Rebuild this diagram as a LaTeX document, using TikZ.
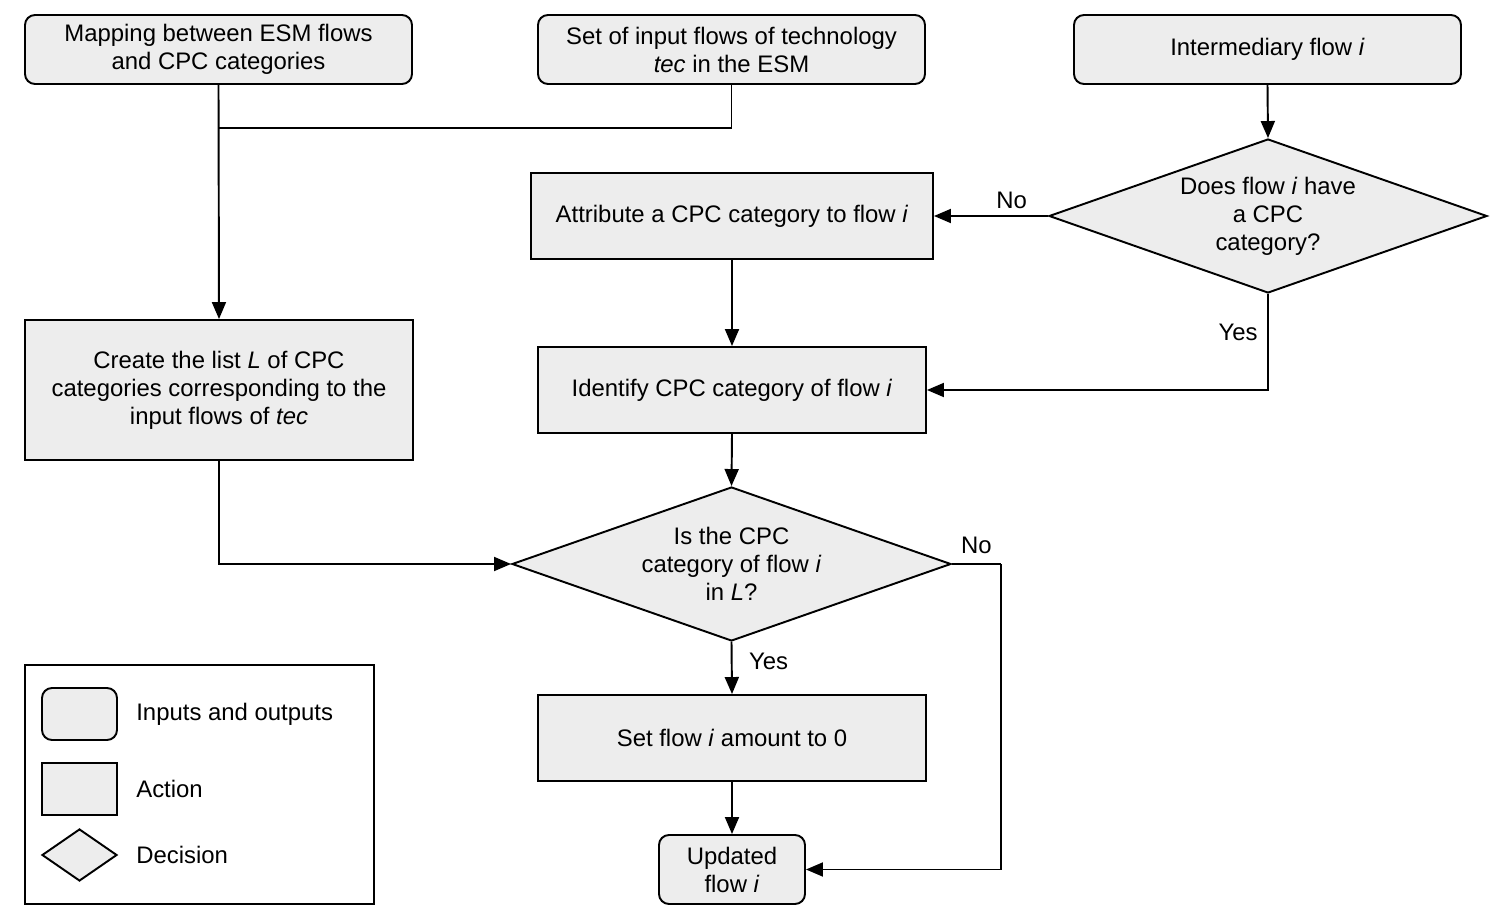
\documentclass[tikz,border=0pt]{standalone}
\usepackage{fontspec}
\setmainfont{Liberation Sans}
\usetikzlibrary{positioning, arrows.meta, shapes.geometric}

\begin{document}
\begin{tikzpicture}[
  font=\fontsize{13.6}{15.9}\selectfont,
  io/.style={draw=black, fill=black!7, rounded corners=0.2cm, align=center,
    minimum width=7.74cm, minimum height=1.38cm, inner sep=2pt, line width=1.1pt},
  action/.style={draw=black, fill=black!7, align=center,
    minimum width=7.76cm, minimum height=1.72cm, inner sep=2pt, line width=1.1pt},
  decision/.style={draw=black, fill=black!7, diamond, aspect=2.84, align=center,
    minimum width=8.76cm, minimum height=3.08cm, inner sep=0pt, line width=1.1pt},
  flow/.style={-{Triangle[length=0.34cm, width=0.28cm]}, line width=1.1pt},
  plain/.style={line width=1.1pt},
  keytext/.style={anchor=west, inner sep=0pt}
]
\useasboundingbox (0,0) rectangle (30.04,-18.48);

% inputs along the top
\node[io] (map)   at (4.37,-0.99)  {Mapping between ESM flows\\and CPC categories};
\node[io] (inset) at (14.63,-0.99) {Set of input flows of technology\\\textit{tec} in the ESM};
\node[io] (inter) at (25.35,-0.99) {Intermediary flow \textit{i}};

% right branch: does the flow already carry a category
\node[decision] (hascpc) at (25.36,-4.32) {Does flow \textit{i} have\\a CPC\\category?};
\node[action, minimum width=8.04cm] (attr)  at (14.64,-4.32) {Attribute a CPC category to flow \textit{i}};
\node[action] (ident) at (14.64,-7.80) {Identify CPC category of flow \textit{i}};

% left branch: the list L
\node[action, minimum height=2.80cm] (create) at (4.38,-7.80)
  {Create the list \textit{L} of CPC\\categories corresponding to the\\input flows of \textit{tec}};

% lower part
\node[decision, minimum width=8.78cm] (inlist) at (14.63,-11.28) {Is the CPC\\category of flow \textit{i}\\in \textit{L}?};
\node[action] (setzero) at (14.64,-14.76) {Set flow \textit{i} amount to 0};
\node[io, minimum width=2.92cm] (updated) at (14.64,-17.39) {Updated\\flow \textit{i}};

% connectors
\coordinate (join) at (4.37,-2.56);
\coordinate (noturn) at (20.02,-11.28);
\draw[plain] (inset.south) |- (join);
\draw[flow] (map.south) -- (create.north);
\draw[flow] (inter.south) -- (hascpc.north);
\draw[flow] (hascpc.west) -- node[pos=0.32, above] {No} (attr.east);
\draw[flow] (attr.south) -- (ident.north);
\draw[flow] (hascpc.south) |- node[pos=0.2, left, xshift=-2pt] {Yes} (ident.east);
\draw[flow] (ident.south) -- (inlist.north);
\draw[flow] (create.south) |- (inlist.west);
\draw[flow] (inlist.south) -- node[right, xshift=6pt, yshift=4pt] {Yes} (setzero.north);
\draw[plain] (inlist.east) -- node[above, yshift=2pt] {No} (noturn);
\draw[flow] (noturn) |- (updated.east);
\draw[flow] (setzero.south) -- (updated.north);

% legend
\node[draw=black, line width=1.1pt, minimum width=6.98cm, minimum height=4.78cm] (key) at (3.99,-15.69) {};
\node[io, minimum width=1.5cm, minimum height=1.04cm] (keyio) at (1.59,-14.28) {};
\node[action, minimum width=1.5cm, minimum height=1.04cm] (keyact) at (1.59,-15.78) {};
\node[decision, minimum width=1.5cm, minimum height=1.04cm, aspect=1.44] (keydec) at (1.59,-17.10) {};
\node[keytext] (keyiotxt)  at (2.72,-14.28) {Inputs and outputs};
\node[keytext] (keyacttxt) at (2.72,-15.78) {Action};
\node[keytext] (keydectxt) at (2.72,-17.10) {Decision};

\end{tikzpicture}
\end{document}
